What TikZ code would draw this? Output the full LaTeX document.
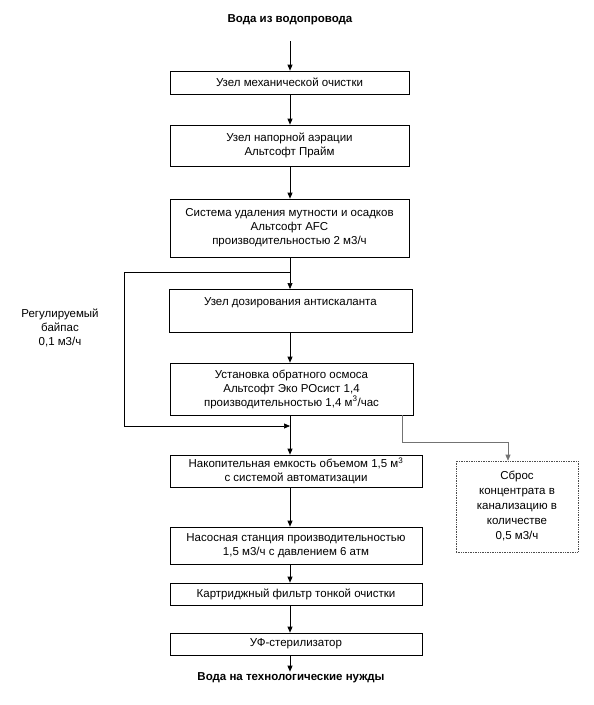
\documentclass[tikz,border=0pt]{standalone}
\usepackage{fontspec}
\setmainfont{Liberation Sans}
\usepackage{tikz}
\usetikzlibrary{arrows.meta,calc,positioning}
\tikzset{
  box/.style={draw=black,line width=0.7pt,align=center,inner sep=1pt,font=\fontsize{11.5}{14}\selectfont},
  arr/.style={line width=0.7pt,-{Triangle[length=6pt,width=5pt]}},
  lin/.style={line width=0.7pt},
  drainbox/.style={box,draw=black!70,densely dotted,line width=0.6pt,font=\fontsize{11.5}{15}\selectfont},
  drainline/.style={arr,draw=black!55,line width=0.6pt},
  headline/.style={font=\bfseries\fontsize{11.5}{14}\selectfont,inner sep=1pt}
}
\begin{document}
\begin{tikzpicture}[x=1pt,y=-1pt]
\useasboundingbox (0,0) rectangle (594,705);
%Hauptachse der Anlage
\coordinate (spine) at (290,0);
\node[headline] (quelle) at (290,20) {Вода из водопровода};
\node[box,minimum width=239pt,minimum height=23pt] (mech) at (289.5,82.5) {Узел механической очистки};
\node[box,minimum width=239pt,minimum height=41pt] (aer) at (289.5,145.5) {Узел напорной аэрации\\Альтсофт Прайм};
\node[box,minimum width=239pt,minimum height=58pt] (afc) at (289.5,228) {Система удаления мутности и осадков\\Альтсофт AFC\\производительностью 2 м3/ч};
\node[box,minimum width=243pt,minimum height=43pt,anchor=north,text height=12pt,text depth=22pt] (dos) at (290.5,289) {Узел дозирования антискаланта};
\node[box,minimum width=243pt,minimum height=52pt] (ro) at (291.5,389) {Установка обратного осмоса\\Альтсофт Эко РОсист 1,4\\производительностью 1,4 м\textsuperscript{3}/час};
\node[box,minimum width=252pt,minimum height=32pt] (tank) at (296,471) {Накопительная емкость объемом 1,5 м\textsuperscript{3}\\с системой автоматизации};
\node[box,minimum width=252pt,minimum height=37pt] (pump) at (296,545.5) {Насосная станция производительностью\\1,5 м3/ч с давлением 6 атм};
\node[box,minimum width=252pt,minimum height=22pt] (cart) at (296,594) {Картриджный фильтр тонкой очистки};
\node[box,minimum width=252pt,minimum height=22pt] (uv) at (296,644) {УФ-стерилизатор};
\node[headline] (ziel) at (291,678) {Вода на технологические нужды};
\node[drainbox,minimum width=122pt,minimum height=91pt] (drain) at (517,506.5) {Сброс\\концентрата в\\канализацию в\\количестве\\0,5 м3/ч};
\node[box,draw=none] (bypass) at (60,328) {Регулируемый\\байпас\\0,1 м3/ч};
%Verzweigungen
\coordinate (split) at (290,272);
\coordinate (merge) at (290,426);
\coordinate (bend) at (124,426);
\coordinate (drop) at (508,442);
\draw[arr] ([yshift=-15pt]quelle.south -| spine) -- (mech.north -| spine);
\foreach \a/\b in {mech/aer,aer/afc,ro/tank,tank/pump,pump/cart,cart/uv}{
\draw[arr] (\a.south -| spine) -- (\b.north -| spine);
}
\draw[lin] (afc.south -| spine) -- (split);
\draw[arr] (split) -- (dos.north -| spine);
\draw[arr] (dos.south -| spine) -- (ro.north -| spine);
\draw[arr] (split) -| (bend) -- (merge);
\draw[arr] (uv.south -| spine) -- (ziel.north -| spine);
\draw[drainline] ([xshift=-11pt]ro.south east) |- (drop) -- (drop |- drain.north);
\end{tikzpicture}
\end{document}
